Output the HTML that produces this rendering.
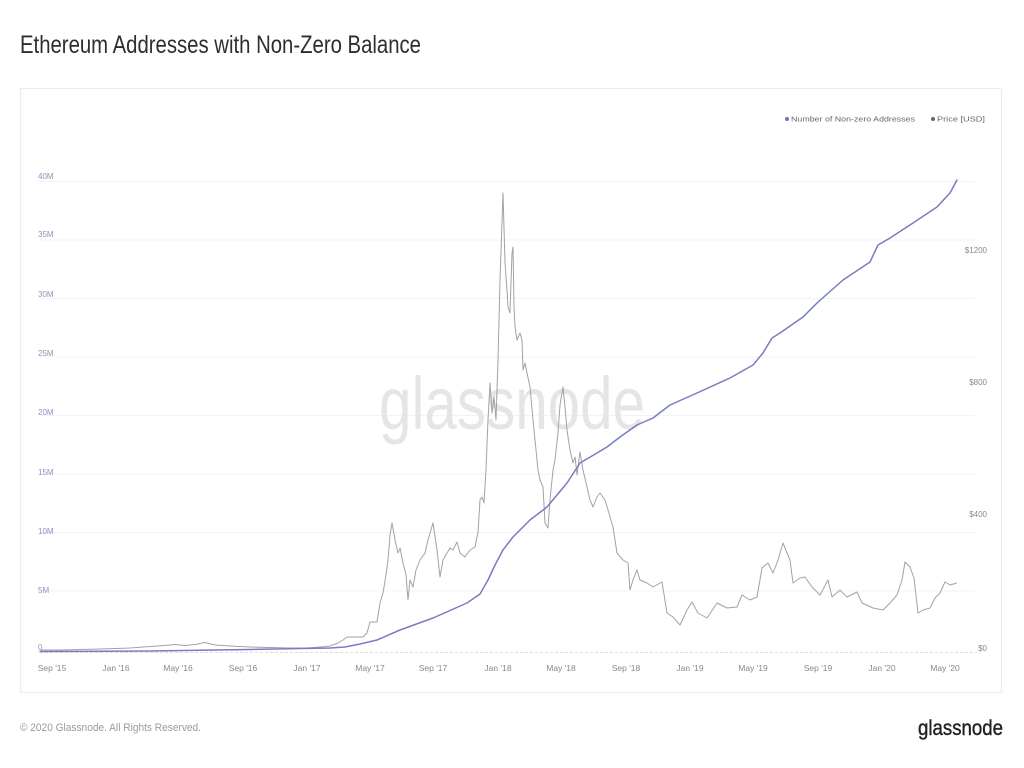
<!DOCTYPE html>
<html>
<head>
<meta charset="utf-8">
<style>
  html, body { margin: 0; padding: 0; background: #ffffff; }
  body { width: 1024px; height: 768px; overflow: hidden; }
  svg { display: block; font-family: "Liberation Sans", Arial, sans-serif; }
</style>
</head>
<body>
<svg width="1024" height="768" viewBox="0 0 1024 768" xmlns="http://www.w3.org/2000/svg">
  <rect x="0" y="0" width="1024" height="768" fill="#ffffff"/>

  <!-- Title -->
  <text x="20" y="53" font-size="25" fill="#2e2e2e" textLength="401" lengthAdjust="spacingAndGlyphs">Ethereum Addresses with Non-Zero Balance</text>

  <!-- Chart box -->
  <rect x="20.5" y="88.5" width="981" height="604" fill="#ffffff" stroke="#ebebeb" stroke-width="1.2"/>

  <!-- Gridlines -->
  <g stroke="#f3f3f3" stroke-width="1">
    <line x1="40" y1="181.5" x2="975" y2="181.5"/>
    <line x1="40" y1="240" x2="975" y2="240"/>
    <line x1="40" y1="298.5" x2="975" y2="298.5"/>
    <line x1="40" y1="357" x2="975" y2="357"/>
    <line x1="40" y1="415.5" x2="975" y2="415.5"/>
    <line x1="40" y1="474" x2="975" y2="474"/>
    <line x1="40" y1="532.5" x2="975" y2="532.5"/>
    <line x1="40" y1="591" x2="975" y2="591"/>
  </g>
  <line x1="40" y1="652.5" x2="977" y2="652.5" stroke="#dcdcdc" stroke-width="1" stroke-dasharray="3,2"/>

  <!-- Watermark -->
  <text x="379" y="429" font-size="74" fill="#e5e5e5" textLength="266" lengthAdjust="spacingAndGlyphs">glassnode</text>

  <!-- Legend -->
  <circle cx="787" cy="119" r="2" fill="#6e74b8"/>
  <text x="791" y="121.5" font-size="7.5" fill="#666" textLength="124" lengthAdjust="spacingAndGlyphs">Number of Non-zero Addresses</text>
  <circle cx="933" cy="119" r="2" fill="#666"/>
  <text x="937" y="121.5" font-size="7.5" fill="#666" textLength="48" lengthAdjust="spacingAndGlyphs">Price [USD]</text>

  <!-- Left axis labels -->
  <g font-size="8" fill="#8d91bb">
    <text x="38" y="179">40M</text>
    <text x="38" y="237">35M</text>
    <text x="38" y="297">30M</text>
    <text x="38" y="356">25M</text>
    <text x="38" y="415">20M</text>
    <text x="38" y="475">15M</text>
    <text x="38" y="534">10M</text>
    <text x="38" y="593">5M</text>
    <text x="38" y="650">0</text>
  </g>

  <!-- Right axis labels -->
  <g font-size="8" fill="#888" text-anchor="end">
    <text x="987" y="253">$1200</text>
    <text x="987" y="385">$800</text>
    <text x="987" y="517">$400</text>
    <text x="987" y="651">$0</text>
  </g>

  <!-- X axis labels -->
  <g font-size="8.5" fill="#888" text-anchor="middle">
    <text x="52" y="671">Sep '15</text>
    <text x="116" y="671">Jan '16</text>
    <text x="178" y="671">May '16</text>
    <text x="243" y="671">Sep '16</text>
    <text x="307" y="671">Jan '17</text>
    <text x="370" y="671">May '17</text>
    <text x="433" y="671">Sep '17</text>
    <text x="498" y="671">Jan '18</text>
    <text x="561" y="671">May '18</text>
    <text x="626" y="671">Sep '18</text>
    <text x="690" y="671">Jan '19</text>
    <text x="753" y="671">May '19</text>
    <text x="818" y="671">Sep '19</text>
    <text x="882" y="671">Jan '20</text>
    <text x="945" y="671">May '20</text>
  </g>

  <!-- Price series -->
  <polyline fill="none" stroke="#a2a2a2" stroke-width="1" stroke-linejoin="round"
    points="40,650 60,650 80,649.5 100,649 115,648.5 130,648 150,646.5 165,645.5 175,644.5 185,645.5 195,644.5 205,642.5 215,645 230,646 250,647 270,647.5 290,648 307,648 320,647 330,646 338,643 343,640 347,637 355,637 363,637 367,633 370,622 377,622 380,603 383,593 386,575 388,560 390,535 392,523 395,540 398,553 400,548 403,563 406,575 408,600 410,580 413,587 416,570 420,560 425,553 428,540 433,523 437,550 440,577 443,560 447,553 450,548 453,550 457,542 460,553 465,557 470,550 475,547 477,537 478,533 480,500 482,497 484,503 486,470 488,420 490,383 492,413 494,397 496,420 498,360 500,280 503,193 505,263 507,290 508,307 510,313 512,253 513,247 514,307 515,327 517,340 520,333 522,340 523,370 525,363 527,373 530,387 533,420 535,440 538,470 540,480 543,487 545,523 548,528 550,500 553,470 555,460 558,433 560,405 563,387 565,407 567,430 570,450 573,463 575,457 577,475 580,452 583,470 587,487 590,500 593,507 597,497 600,493 605,500 608,510 613,527 617,553 623,560 628,563 630,590 633,580 637,570 640,580 647,583 653,587 662,582 667,613 673,617 680,625 687,610 692,602 698,613 707,618 717,603 727,608 737,607 742,595 750,600 757,597 762,568 768,563 773,573 778,560 783,543 787,553 790,560 793,583 800,578 805,577 812,587 820,595 828,580 832,597 840,590 847,597 857,592 862,603 873,608 883,610 890,603 897,595 902,580 905,562 910,567 914,578 918,613 923,610 930,608 935,598 940,593 945,582 950,585 957,583"/>

  <!-- Addresses series -->
  <polyline fill="none" stroke="#777cc0" stroke-width="1.5" stroke-linejoin="round" stroke-linecap="round"
    points="40,651.5 100,651.3 150,651 200,650.3 250,649.5 300,648.5 330,648 345,647 360,644 377,640 400,630 433,618 467,603 480,594 488,580 495,565 503,550 513,537 530,520 547,507 567,483 580,463 597,453 607,447 620,437 637,425 653,418 670,405 697,393 730,378 753,365 763,353 772,338 780,333 803,317 817,303 843,280 870,262 878,245 890,238 913,223 937,207 950,193 957,180"/>

  <!-- Footer -->
  <text x="20" y="731" font-size="11" fill="#9a9a9a" textLength="181" lengthAdjust="spacingAndGlyphs">© 2020 Glassnode. All Rights Reserved.</text>
  <text x="918" y="735" font-size="21" fill="#222" stroke="#222" stroke-width="0.4" textLength="85" lengthAdjust="spacingAndGlyphs">glassnode</text>
</svg>
</body>
</html>
